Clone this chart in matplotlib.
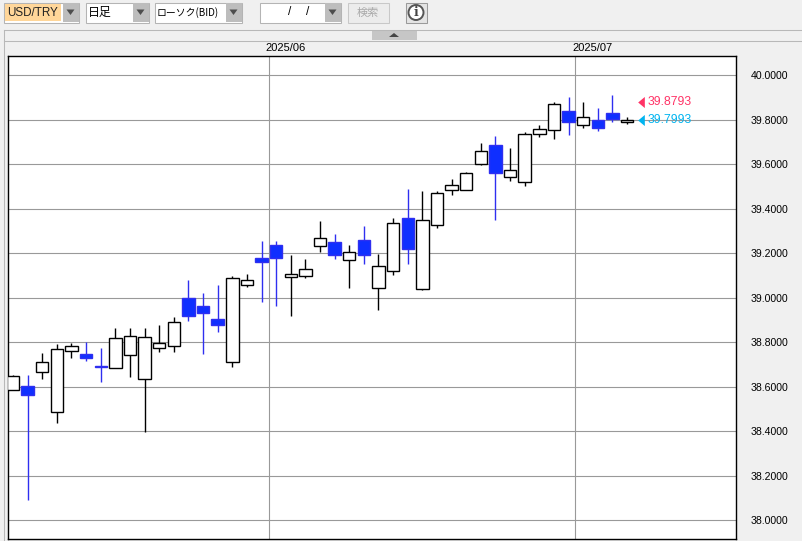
import matplotlib
matplotlib.use('Agg')
import matplotlib.pyplot as plt
from matplotlib.patches import Rectangle, Polygon
from matplotlib.transforms import ScaledTranslation

W, H = 802, 541

# daily candles, USD/TRY
opens = [38.585, 38.603, 38.666, 38.486, 38.760, 38.746, 38.694, 38.684, 38.742, 38.635, 38.773,
         38.782, 38.998, 38.962, 38.904, 38.710, 39.056, 39.178, 39.236, 39.092, 39.096, 39.232,
         39.250, 39.169, 39.259, 39.042, 39.119, 39.357, 39.038, 39.325, 39.483, 39.483, 39.600,
         39.687, 39.541, 39.519, 39.735, 39.753, 39.838, 39.776, 39.797, 39.829, 39.788]
closes = [38.648, 38.565, 38.710, 38.769, 38.782, 38.731, 38.687, 38.818, 38.827, 38.823, 38.796,
          38.890, 38.917, 38.931, 38.877, 39.087, 39.078, 39.162, 39.178, 39.106, 39.128, 39.268,
          39.194, 39.205, 39.191, 39.142, 39.335, 39.221, 39.349, 39.469, 39.505, 39.559, 39.659,
          39.562, 39.573, 39.735, 39.758, 39.869, 39.788, 39.811, 39.761, 39.804, 39.797]
highs = [38.654, 38.654, 38.752, 38.793, 38.797, 38.802, 38.774, 38.865, 38.865, 38.865, 38.878,
         38.914, 39.080, 39.021, 39.057, 39.098, 39.107, 39.256, 39.256, 39.192, 39.174, 39.345,
         39.287, 39.237, 39.322, 39.197, 39.358, 39.489, 39.480, 39.478, 39.534, 39.565, 39.695,
         39.727, 39.673, 39.744, 39.777, 39.878, 39.902, 39.880, 39.853, 39.911, 39.812]
lows = [38.585, 38.093, 38.633, 38.439, 38.731, 38.717, 38.622, 38.684, 38.642, 38.398, 38.758,
        38.758, 38.897, 38.747, 38.847, 38.687, 39.050, 38.982, 38.965, 38.916, 39.090, 39.207,
        39.176, 39.042, 39.153, 38.947, 39.104, 39.153, 39.034, 39.314, 39.463, 39.483, 39.595,
        39.350, 39.526, 39.502, 39.722, 39.715, 39.733, 39.765, 39.750, 39.791, 39.779]

y_ticks = [38.0, 38.2, 38.4, 38.6, 38.8, 39.0, 39.2, 39.4, 39.6, 39.8, 40.0]
month_labels = ['2025/06', '2025/07']
month_pos = [17.49, 38.45]
ask_price = 39.8793
bid_price = 39.7993

GRID = '#999999'
BLUE = '#0f2fff'
WICK_BLUE = '#2f2ff0'
BG = '#f0f0f0'

fig = plt.figure(figsize=(W / 100, H / 100), dpi=100, facecolor=BG)

# overlay in pixel coords for the toolbar bits
ui = fig.add_axes([0, 0, 1, 1], zorder=0)
ui.set_xlim(0, W)
ui.set_ylim(H, 0)
ui.axis('off')


def box(x, y, w, h, fc='white', ec='#b4b4b4', lw=0.75):
    ui.add_patch(Rectangle((x, y), w, h, fc=fc, ec=ec, lw=lw))


def arrow(x, y, s=4):
    ui.add_patch(Polygon([(x - s, y - 2.5), (x + s, y - 2.5), (x, y + 3)], fc='#4d4d4d', ec='none'))


# combo boxes
for x, w in [(3.5, 75), (85.5, 63), (154.5, 87), (259.5, 81)]:
    box(x, 2.5, w, 20)
    box(x + w - 16, 3, 16, 19, fc='#bdbdbd', ec='none')
    arrow(x + w - 8, 12)
ui.add_patch(Rectangle((5, 4), 56, 17, fc='#ffd699', ec='none'))
ui.text(7, 12.5, 'USD/TRY', fontsize=8.4, family='Liberation Sans', va='center', color='#222222')
ui.text(88, 12.5, '日足', fontsize=8.6, family='Noto Sans CJK JP', va='center', color='black')
ui.text(157, 12.5, 'ローソク(BID)', fontsize=7.1, family='Noto Sans CJK JP', va='center', color='black')
ui.text(288, 12, '/', fontsize=8.6, family='Liberation Sans', va='center', color='black')
ui.text(306, 12, '/', fontsize=8.6, family='Liberation Sans', va='center', color='black')
ui.add_patch(Rectangle((347.5, 2.5), 41, 20, fc='#ececec', ec='#c8c8c8', lw=0.75))
ui.text(368, 12.5, '検索', fontsize=8, family='Noto Sans CJK JP', va='center', ha='center', color='#a8a8a8')
ui.add_patch(Rectangle((405.5, 2.5), 21, 20, fc='#e4e4e4', ec='#9a9a9a', lw=0.75))
ui.add_patch(plt.Circle((416, 12.5), 7.5, fc='white', ec='#555555', lw=1.4))
ui.text(416, 12.5, 'i', fontsize=9, weight='bold', family='DejaVu Serif', va='center', ha='center', color='#444444')

# splitter bar
ui.plot([3.5, 3.5], [541, 29.5], color='#b8b8b8', lw=0.75)
ui.plot([3.5, 802], [29.5, 29.5], color='#b8b8b8', lw=0.75)
ui.plot([3.5, 802], [40.5, 40.5], color='#b8b8b8', lw=0.75)
ui.add_patch(Rectangle((372, 30), 45, 10, fc='#c6c6c6', ec='none'))
ui.add_patch(Polygon([(389, 37), (399, 37), (394, 33)], fc='#444444', ec='none'))

# chart panel
left, right, top, bottom = 7.5, 736.5, 55.5, 538.5
ax = fig.add_axes([left / W, 1 - bottom / H, (right - left) / W, (bottom - top) / H], zorder=1)
ax.set_facecolor('white')
# pixel fit: candle spacing 14.62 px, first candle at x=13
ax.set_xlim((left - 13) / 14.62, (right - 13) / 14.62)
ax.set_ylim(40 - (bottom - 75.2) / 222.6, 40 - (top - 75.2) / 222.6)

ax.set_yticks(y_ticks)
ax.set_yticklabels(['%.4f' % v for v in y_ticks], family='Liberation Sans', fontsize=7.6)
ax.yaxis.tick_right()
ax.tick_params(axis='y', length=0, pad=10)
ax.set_xticks(month_pos)
ax.set_xticklabels(month_labels, family='Liberation Sans', fontsize=8, ha='left')
ax.xaxis.tick_top()
ax.tick_params(axis='x', length=0, pad=1.5)
# month labels sit a touch left of their gridline
for lab in ax.get_xticklabels():
    lab.set_transform(lab.get_transform() + ScaledTranslation(-2 / 72, 0, fig.dpi_scale_trans))
ax.grid(True, color=GRID, lw=0.8)
ax.set_axisbelow(True)
for s in ax.spines.values():
    s.set_linewidth(1.0)
    s.set_color('black')

body_w = 0.85
for i in range(len(opens)):
    up = closes[i] >= opens[i]
    if up:
        ax.vlines(i, lows[i], highs[i], color='black', lw=1.0, zorder=3)
        fc, ec = 'white', 'black'
    else:
        ax.vlines(i, lows[i], highs[i], color=WICK_BLUE, lw=1.0, zorder=3)
        fc, ec = BLUE, WICK_BLUE
    ax.add_patch(Rectangle((i - body_w / 2, min(opens[i], closes[i])), body_w,
                           abs(closes[i] - opens[i]), fc=fc, ec=ec, lw=1.0, zorder=4))

# current ask / bid markers
tri = [(0.6, -1), (0.6, 1), (-0.6, 0), (0.6, -1)]
for price, col in [(ask_price, '#ff3366'), (bid_price, '#00b4f0')]:
    ax.plot([42.95], [price], marker=tri, ms=8, color=col, mec='none', zorder=5)
    ax.text(43.4, price, '%.4f' % price, color=col, family='Liberation Sans',
            fontsize=8.7, va='center', ha='left', zorder=5)

fig.savefig('out.png', dpi=100, facecolor=BG)
